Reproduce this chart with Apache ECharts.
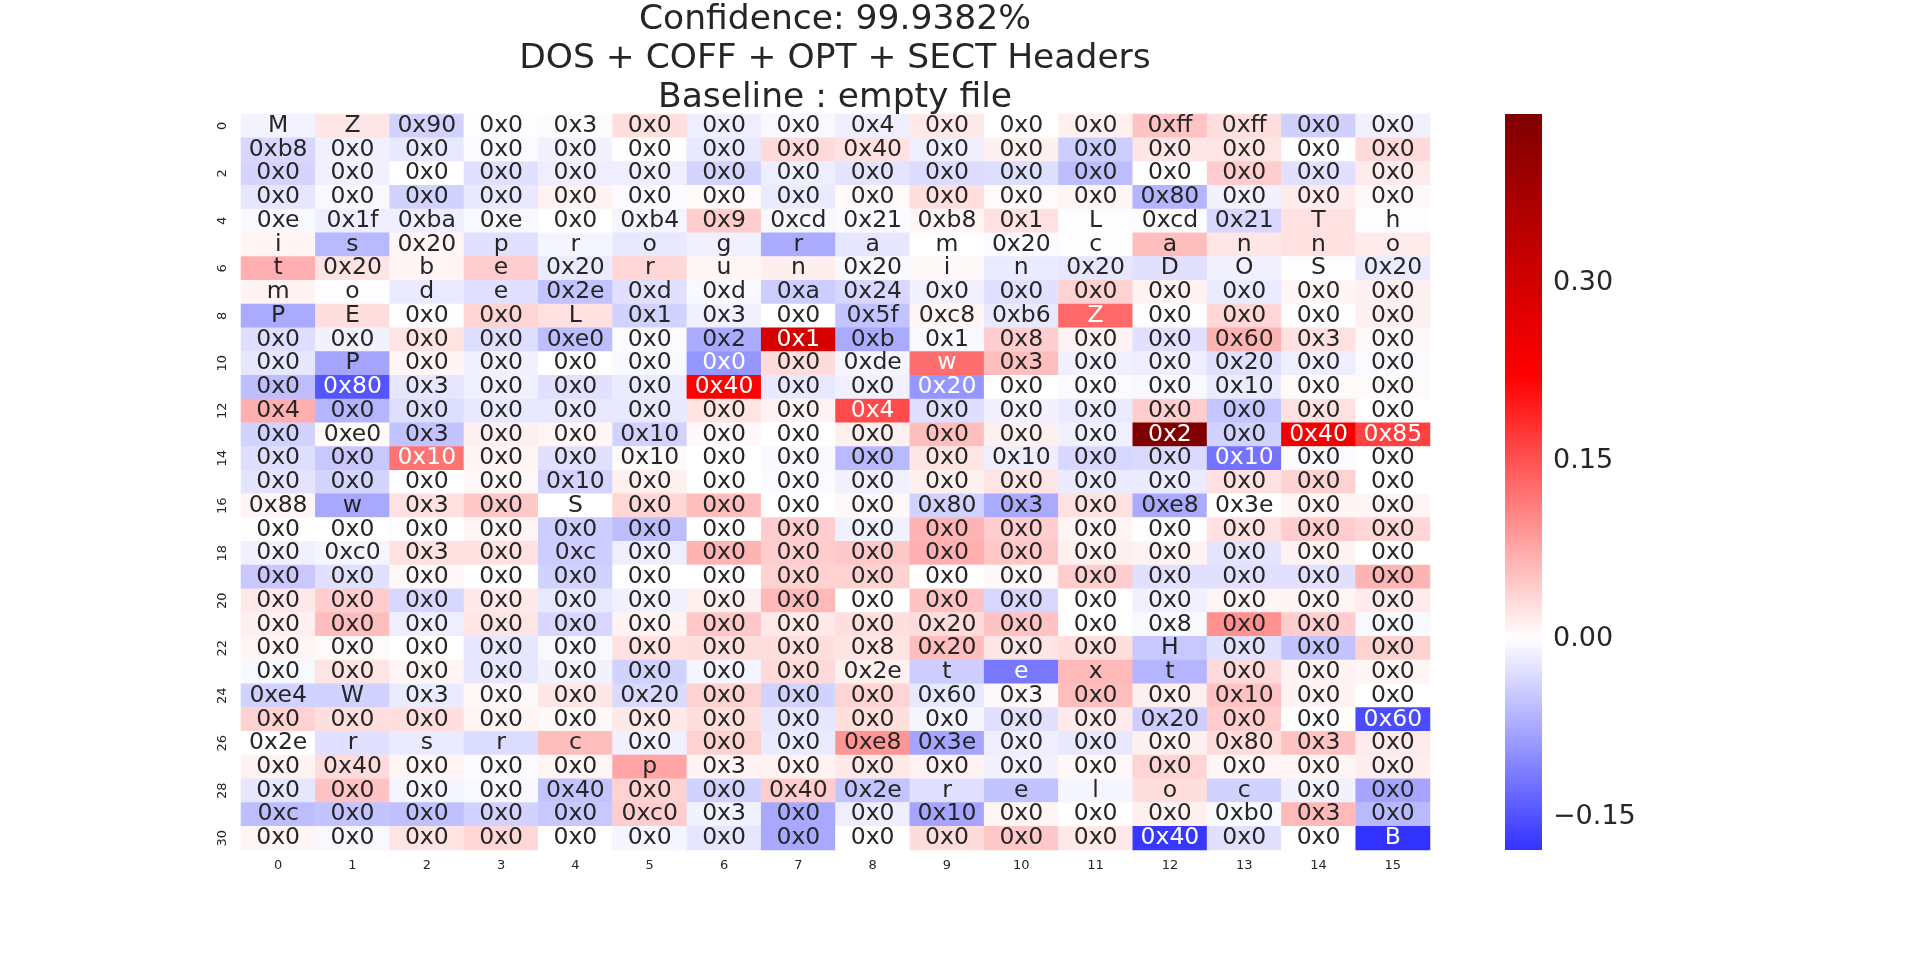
<!DOCTYPE html>
<html>
<head>
<meta charset="utf-8">
<script src="https://cdn.jsdelivr.net/npm/echarts/dist/echarts.min.js"></script>
<style>
  html, body { margin: 0; padding: 0; background: #ffffff; }
  #chart { width: 1920px; height: 955px; }
</style>
</head>
<body>
<div id="chart"></div>
<script>
// column / row tick labels
const colTicks = ['0','1','2','3','4','5','6','7','8','9','10','11','12','13','14','15'];
const rowTicks = ['0','1','2','3','4','5','6','7','8','9','10','11','12','13','14','15',
  '16','17','18','19','20','21','22','23','24','25','26','27','28','29','30'];
const cbarTicks = [-0.15, 0.00, 0.15, 0.30];

// byte shown in each cell (one string per row)
const cellText = [
  'M Z 0x90 0x0 0x3 0x0 0x0 0x0 0x4 0x0 0x0 0x0 0xff 0xff 0x0 0x0',
  '0xb8 0x0 0x0 0x0 0x0 0x0 0x0 0x0 0x40 0x0 0x0 0x0 0x0 0x0 0x0 0x0',
  '0x0 0x0 0x0 0x0 0x0 0x0 0x0 0x0 0x0 0x0 0x0 0x0 0x0 0x0 0x0 0x0',
  '0x0 0x0 0x0 0x0 0x0 0x0 0x0 0x0 0x0 0x0 0x0 0x0 0x80 0x0 0x0 0x0',
  '0xe 0x1f 0xba 0xe 0x0 0xb4 0x9 0xcd 0x21 0xb8 0x1 L 0xcd 0x21 T h',
  'i s 0x20 p r o g r a m 0x20 c a n n o',
  't 0x20 b e 0x20 r u n 0x20 i n 0x20 D O S 0x20',
  'm o d e 0x2e 0xd 0xd 0xa 0x24 0x0 0x0 0x0 0x0 0x0 0x0 0x0',
  'P E 0x0 0x0 L 0x1 0x3 0x0 0x5f 0xc8 0xb6 Z 0x0 0x0 0x0 0x0',
  '0x0 0x0 0x0 0x0 0xe0 0x0 0x2 0x1 0xb 0x1 0x8 0x0 0x0 0x60 0x3 0x0',
  '0x0 P 0x0 0x0 0x0 0x0 0x0 0x0 0xde w 0x3 0x0 0x0 0x20 0x0 0x0',
  '0x0 0x80 0x3 0x0 0x0 0x0 0x40 0x0 0x0 0x20 0x0 0x0 0x0 0x10 0x0 0x0',
  '0x4 0x0 0x0 0x0 0x0 0x0 0x0 0x0 0x4 0x0 0x0 0x0 0x0 0x0 0x0 0x0',
  '0x0 0xe0 0x3 0x0 0x0 0x10 0x0 0x0 0x0 0x0 0x0 0x0 0x2 0x0 0x40 0x85',
  '0x0 0x0 0x10 0x0 0x0 0x10 0x0 0x0 0x0 0x0 0x10 0x0 0x0 0x10 0x0 0x0',
  '0x0 0x0 0x0 0x0 0x10 0x0 0x0 0x0 0x0 0x0 0x0 0x0 0x0 0x0 0x0 0x0',
  '0x88 w 0x3 0x0 S 0x0 0x0 0x0 0x0 0x80 0x3 0x0 0xe8 0x3e 0x0 0x0',
  '0x0 0x0 0x0 0x0 0x0 0x0 0x0 0x0 0x0 0x0 0x0 0x0 0x0 0x0 0x0 0x0',
  '0x0 0xc0 0x3 0x0 0xc 0x0 0x0 0x0 0x0 0x0 0x0 0x0 0x0 0x0 0x0 0x0',
  '0x0 0x0 0x0 0x0 0x0 0x0 0x0 0x0 0x0 0x0 0x0 0x0 0x0 0x0 0x0 0x0',
  '0x0 0x0 0x0 0x0 0x0 0x0 0x0 0x0 0x0 0x0 0x0 0x0 0x0 0x0 0x0 0x0',
  '0x0 0x0 0x0 0x0 0x0 0x0 0x0 0x0 0x0 0x20 0x0 0x0 0x8 0x0 0x0 0x0',
  '0x0 0x0 0x0 0x0 0x0 0x0 0x0 0x0 0x8 0x20 0x0 0x0 H 0x0 0x0 0x0',
  '0x0 0x0 0x0 0x0 0x0 0x0 0x0 0x0 0x2e t e x t 0x0 0x0 0x0',
  '0xe4 W 0x3 0x0 0x0 0x20 0x0 0x0 0x0 0x60 0x3 0x0 0x0 0x10 0x0 0x0',
  '0x0 0x0 0x0 0x0 0x0 0x0 0x0 0x0 0x0 0x0 0x0 0x0 0x20 0x0 0x0 0x60',
  '0x2e r s r c 0x0 0x0 0x0 0xe8 0x3e 0x0 0x0 0x0 0x80 0x3 0x0',
  '0x0 0x40 0x0 0x0 0x0 p 0x3 0x0 0x0 0x0 0x0 0x0 0x0 0x0 0x0 0x0',
  '0x0 0x0 0x0 0x0 0x40 0x0 0x0 0x40 0x2e r e l o c 0x0 0x0',
  '0xc 0x0 0x0 0x0 0x0 0xc0 0x3 0x0 0x0 0x10 0x0 0x0 0x0 0xb0 0x3 0x0',
  '0x0 0x0 0x0 0x0 0x0 0x0 0x0 0x0 0x0 0x0 0x0 0x0 0x40 0x0 0x0 B'
].map(s => s.split(' '));

// attribution value of each cell (row by row)
const cellValue = [
  [-0.010, 0.022,-0.039,-0.002,-0.003, 0.029,-0.015,-0.006,-0.015, 0.020, 0.000, 0.013, 0.052, 0.029,-0.041,-0.013],
  [-0.035,-0.013,-0.020,-0.004,-0.011,-0.001,-0.020, 0.032, 0.026,-0.015, 0.013,-0.043, 0.022, 0.023, 0.000, 0.032],
  [-0.037,-0.013, 0.000,-0.026,-0.015,-0.015,-0.037,-0.015,-0.023,-0.030,-0.029,-0.056, 0.000, 0.043,-0.026, 0.017],
  [-0.022,-0.006,-0.039,-0.020, 0.011,-0.004, 0.004,-0.017, 0.004, 0.029, 0.004, 0.009,-0.065,-0.011, 0.017, 0.006],
  [-0.006,-0.015,-0.015,-0.006, 0.000,-0.009, 0.043,-0.006,-0.004, 0.009, 0.026,-0.002,-0.003,-0.035, 0.026,-0.002],
  [ 0.009,-0.061, 0.009,-0.026,-0.009,-0.020,-0.013,-0.072,-0.022, 0.000,-0.004,-0.002, 0.056, 0.022, 0.026, 0.017],
  [ 0.069, 0.023, 0.009, 0.043,-0.017, 0.035, 0.009, 0.015,-0.006, 0.006,-0.017,-0.022,-0.026,-0.013,-0.002,-0.017],
  [ 0.010,-0.002,-0.017,-0.026,-0.052,-0.026,-0.006,-0.043,-0.035,-0.013,-0.026, 0.039, 0.011,-0.017, 0.009, 0.013],
  [-0.074, 0.029,-0.001, 0.037, 0.026,-0.039,-0.013, 0.000,-0.052, 0.009,-0.020, 0.130,-0.002, 0.035,-0.001, 0.013],
  [-0.029,-0.011, 0.023,-0.029,-0.056,-0.004,-0.074, 0.290,-0.074,-0.006, 0.043, 0.011,-0.026, 0.065, 0.026, 0.006],
  [-0.022,-0.078, 0.009,-0.013, 0.000,-0.006,-0.091, 0.030,-0.009, 0.126, 0.056,-0.013,-0.015,-0.026,-0.015,-0.004],
  [-0.056,-0.147,-0.022,-0.013,-0.026,-0.017, 0.220,-0.020,-0.013,-0.091, 0.000,-0.004,-0.006,-0.017, 0.004, 0.004],
  [ 0.069,-0.065,-0.029,-0.020,-0.020,-0.020, 0.023, 0.011, 0.156,-0.029,-0.011,-0.017, 0.043,-0.049, 0.026, 0.000],
  [-0.039, 0.004,-0.052, 0.013, 0.009,-0.039, 0.006, 0.000, 0.013, 0.056, 0.013,-0.013, 0.442,-0.039, 0.238, 0.165],
  [-0.029,-0.048, 0.121, 0.009,-0.026, 0.004, 0.000,-0.006,-0.061, 0.023,-0.015,-0.035,-0.032,-0.121,-0.004, 0.000],
  [-0.023,-0.037, 0.000, 0.006,-0.037, 0.013, 0.000,-0.004,-0.013, 0.013, 0.023,-0.017,-0.017, 0.026, 0.039, 0.000],
  [ 0.009,-0.075, 0.026, 0.048, 0.000, 0.035, 0.056, 0.000, 0.006,-0.039,-0.074, 0.026,-0.074, 0.000, 0.009, 0.009],
  [-0.001, 0.000,-0.002, 0.009,-0.043,-0.056, 0.000, 0.043,-0.013, 0.065, 0.043, 0.009,-0.001, 0.026, 0.043, 0.035],
  [-0.013,-0.009, 0.026, 0.026,-0.043,-0.015, 0.065, 0.043, 0.048, 0.069, 0.048, 0.013, 0.011,-0.023, 0.011, 0.000],
  [-0.048,-0.026, 0.006, 0.000,-0.039, 0.000, 0.000, 0.039, 0.039, 0.000, 0.006, 0.043,-0.026,-0.026,-0.026, 0.065],
  [ 0.020, 0.043,-0.035, 0.020,-0.020,-0.013, 0.013, 0.061, 0.000, 0.052,-0.035, 0.000,-0.013, 0.009, 0.009, 0.017],
  [ 0.013, 0.056,-0.015, 0.023,-0.035, 0.010, 0.048, 0.020, 0.029, 0.030, 0.052, 0.000,-0.006, 0.095, 0.043,-0.006],
  [ 0.009, 0.004, 0.000,-0.022,-0.006, 0.026, 0.029, 0.029, 0.023, 0.056, 0.022, 0.029,-0.048,-0.026,-0.052, 0.039],
  [-0.006, 0.023, 0.009,-0.022,-0.011,-0.039,-0.009, 0.032, 0.013,-0.043,-0.117, 0.061,-0.065, 0.032, 0.011, 0.009],
  [-0.039,-0.039,-0.017, 0.006, 0.022,-0.032, 0.039,-0.039, 0.037,-0.020, 0.006, 0.056, 0.013, 0.052, 0.011, 0.000],
  [ 0.039, 0.029, 0.029, 0.009, 0.006, 0.020, 0.029,-0.022, 0.029,-0.009,-0.026, 0.017,-0.043, 0.043, 0.000,-0.156],
  [ 0.000,-0.026,-0.017,-0.030, 0.056,-0.013, 0.039,-0.017, 0.091,-0.078,-0.015,-0.020, 0.013, 0.030, 0.052, 0.017],
  [ 0.011, 0.030, 0.009,-0.004, 0.009, 0.078, 0.010, 0.011, 0.020, 0.011,-0.011, 0.006, 0.037, 0.009, 0.009, 0.015],
  [-0.022, 0.052,-0.009,-0.006,-0.052, 0.039,-0.039, 0.043,-0.052,-0.026,-0.052,-0.009, 0.029,-0.039,-0.011,-0.078],
  [-0.056,-0.052,-0.055,-0.039,-0.048, 0.043,-0.011,-0.075,-0.015,-0.078, 0.009, 0.000, 0.013,-0.006, 0.061,-0.061],
  [ 0.009,-0.006, 0.023, 0.035, 0.000,-0.009,-0.022,-0.075, 0.000, 0.030, 0.048, 0.020,-0.173,-0.026, 0.000,-0.178]
];

const titleLines = ['Confidence: 99.9382%', 'DOS + COFF + OPT + SECT Headers', 'Baseline : empty file'];

const FONT = 'DejaVu Sans';
const DARK = '#262626';

// colour scale: seismic, centred on 0 (like seaborn center=0)
const allVals = cellValue.flat();
const vmin = Math.min(...allVals);
const vmax = Math.max(...allVals);
const vrange = Math.max(Math.abs(vmin), Math.abs(vmax));
const SEISMIC = [[0, [0, 0, 76.5]], [0.25, [0, 0, 255]], [0.5, [255, 255, 255]], [0.75, [255, 0, 0]], [1, [127.5, 0, 0]]];

function cellRgb(v) {
    let f = 0.5 + v / (2 * vrange);
    f = Math.max(0, Math.min(1, f));
    for (let i = 1; i < SEISMIC.length; i++) {
        if (f <= SEISMIC[i][0]) {
            const a = SEISMIC[i - 1], b = SEISMIC[i];
            const t = (f - a[0]) / (b[0] - a[0]);
            return a[1].map((c, k) => c + (b[1][k] - c) * t);
        }
    }
    return SEISMIC[SEISMIC.length - 1][1];
}
function toCss(rgb) {
    return 'rgb(' + rgb.map(c => Math.round(c)).join(',') + ')';
}
function luminance(rgb) {
    const lin = rgb.map(c => {
        c = c / 255;
        return c <= 0.03928 ? c / 12.92 : Math.pow((c + 0.055) / 1.055, 2.4);
    });
    return 0.2126 * lin[0] + 0.7152 * lin[1] + 0.0722 * lin[2];
}

let heatData = [];
cellValue.forEach((row, r) => {
    row.forEach((v, c) => {
        const rgb = cellRgb(v);
        heatData.push({
            value: [c, r, v],
            itemStyle: { color: toCss(rgb) },
            label: { color: luminance(rgb) > 0.408 ? DARK : '#ffffff' }
        });
    });
});

// gradient for the colour bar
let cbarStops = [];
const N = 120;
for (let i = 0; i <= N; i++) {
    const v = vmax - (vmax - vmin) * i / N;
    cbarStops.push({ offset: i / N, color: toCss(cellRgb(v)) });
}

let option = {
    backgroundColor: '#ffffff',
    animation: false,
    title: {
        text: titleLines.join('\n'),
        left: 835,
        top: 1,
        padding: 0,
        textAlign: 'center',
        textStyle: {
            fontFamily: FONT,
            fontSize: 34.5,
            fontWeight: 'normal',
            color: DARK,
            lineHeight: 39
        }
    },
    grid: [
        { left: 241, top: 114, width: 1189, height: 736 },
        { left: 1505, top: 114, width: 37, height: 736 }
    ],
    xAxis: [
        {
            type: 'category',
            gridIndex: 0,
            data: colTicks,
            axisLine: { show: false },
            axisTick: { show: false },
            splitArea: { show: false },
            axisLabel: { fontFamily: FONT, fontSize: 13, color: DARK, margin: 9 }
        },
        {
            type: 'value',
            gridIndex: 1,
            min: 0,
            max: 1,
            show: false
        }
    ],
    yAxis: [
        {
            type: 'category',
            gridIndex: 0,
            data: rowTicks,
            inverse: true,
            axisLine: { show: false },
            axisTick: { show: false },
            splitArea: { show: false },
            axisLabel: { interval: 1, rotate: 90, fontFamily: FONT, fontSize: 13, color: DARK, margin: 12 }
        },
        {
            type: 'value',
            gridIndex: 1,
            position: 'right',
            min: vmin,
            max: vmax,
            axisLine: { show: false },
            axisTick: { show: false },
            splitLine: { show: false },
            axisLabel: {
                customValues: cbarTicks,
                fontFamily: FONT,
                fontSize: 27,
                color: DARK,
                margin: 11,
                formatter: function (v) {
                    return (v < 0 ? '\u2212' : '') + Math.abs(v).toFixed(2);
                }
            }
        }
    ],
    series: [
        {
            type: 'heatmap',
            xAxisIndex: 0,
            yAxisIndex: 0,
            data: heatData,
            label: {
                show: true,
                fontFamily: FONT,
                fontSize: 23.5,
                formatter: function (p) {
                    return cellText[p.value[1]][p.value[0]];
                }
            },
            emphasis: { disabled: true }
        },
        {
            type: 'custom',
            xAxisIndex: 1,
            yAxisIndex: 1,
            data: [[vmin, vmax]],
            silent: true,
            renderItem: function (params, api) {
                const topLeft = api.coord([0, api.value(1)]);
                const botRight = api.coord([1, api.value(0)]);
                return {
                    type: 'rect',
                    shape: {
                        x: topLeft[0],
                        y: topLeft[1],
                        width: botRight[0] - topLeft[0],
                        height: botRight[1] - topLeft[1]
                    },
                    style: { fill: new echarts.graphic.LinearGradient(0, 0, 0, 1, cbarStops) }
                };
            }
        }
    ]
};

var myChart = echarts.init(document.getElementById('chart'));
myChart.setOption(option);
</script>
</body>
</html>
